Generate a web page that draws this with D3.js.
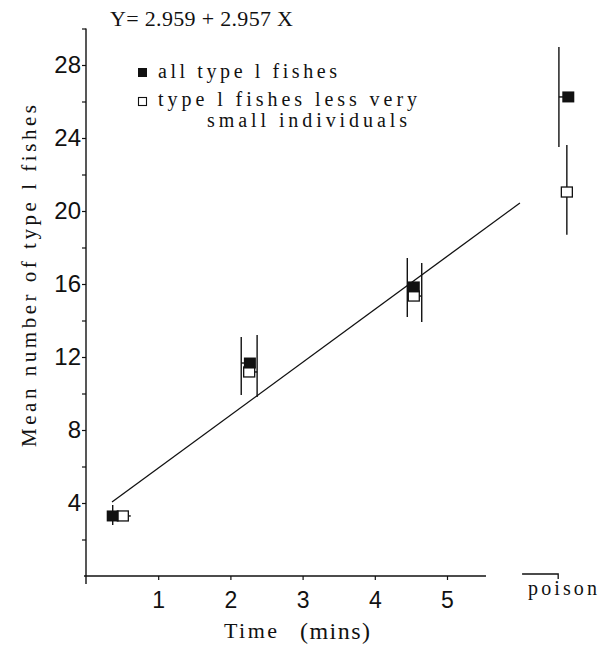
<!DOCTYPE html>
<html>
<head>
<meta charset="utf-8">
<script src="https://cdn.jsdelivr.net/npm/d3@7"></script>
<style>
  body { margin: 0; background: #fff; }
  svg { display: block; }
</style>
</head>
<body>
<svg id="chart" width="610" height="645"></svg>
<script>
// values (time in mins, mean count)
const allTime = [0.37, 2.27, 4.54, 6.68];
const allMean = [3.29, 11.67, 15.84, 26.25];
const allBarTime = [0.37, 2.15, 4.45, 6.55];
const allLow = [2.79, 9.92, 14.19, 23.51];
const allHigh = [3.89, 13.10, 17.42, 28.99];

const lessTime = [0.51, 2.26, 4.54, 6.66];
const lessMean = [3.29, 11.18, 15.34, 21.04];
const lessBarTime = [0.62, 2.37, 4.65, 6.66];
const lessLow = [3.29, 9.81, 13.92, 18.7];
const lessHigh = [3.29, 13.21, 17.15, 23.62];

// fitted line as drawn
const fitTime = [0.36, 6.01];
const fitValue = [4.05, 20.44];

const xTicks = [1, 2, 3, 4, 5];
const yTicks = [2, 4, 6, 8, 10, 12, 14, 16, 18, 20, 22, 24, 26, 28, 30];
const poisonSpan = [6.04, 6.54];

const svg = d3.select("#chart");
const serif = "Liberation Serif";
const sans = "Liberation Sans";

const x = d3.scaleLinear().domain([0, 5]).range([86, 447]);
const y = d3.scaleLinear().domain([0, 28]).range([576, 65]);

// serif labels are stretched by letter spacing only, like the typewritten original
function label(sel, px, len) {
  return sel.attr("textLength", len).attr("lengthAdjust", "spacing")
    .style("font-family", serif).style("font-size", px + "px").attr("fill", "#111");
}

// y axis
const yAxis = svg.append("g")
  .attr("transform", `translate(${x(0)},0)`)
  .call(d3.axisLeft(y).tickValues(yTicks).tickSize(4).tickPadding(1)
    .tickFormat(d => d % 4 === 0 && d < 30 ? d : ""));
yAxis.select(".domain").remove();
yAxis.selectAll("line").attr("stroke", "#111").attr("stroke-width", 1.2);
yAxis.selectAll("text").style("font-family", sans).style("font-size", "24px").attr("fill", "#111");
svg.append("line")
  .attr("x1", x(0)).attr("x2", x(0))
  .attr("y1", y(0) + 8).attr("y2", y(30))
  .attr("stroke", "#111").attr("stroke-width", 1.4);

// x axis
const xAxis = svg.append("g")
  .attr("transform", `translate(0,${y(0)})`)
  .call(d3.axisBottom(x).tickValues(xTicks).tickSize(4).tickPadding(12).tickFormat(d3.format("d")));
xAxis.select(".domain").remove();
xAxis.selectAll("line").attr("stroke", "#111").attr("stroke-width", 1.2);
xAxis.selectAll("text").style("font-family", sans).style("font-size", "23px").attr("fill", "#111");
svg.append("line")
  .attr("x1", x(0) - 2).attr("x2", x(5.54))
  .attr("y1", y(0)).attr("y2", y(0))
  .attr("stroke", "#111").attr("stroke-width", 1.4);

// separate "poison" stub
svg.append("path")
  .attr("d", `M${x(poisonSpan[0])},${y(0) - 2}H${x(poisonSpan[1])}v5`)
  .attr("fill", "none").attr("stroke", "#111").attr("stroke-width", 1.3);
label(svg.append("text").attr("x", 528).attr("y", 595), 20, 69).text("poison");

// axis titles
label(svg.append("text").attr("x", 224).attr("y", 638), 22, 53).text("Time");
label(svg.append("text").attr("x", 300).attr("y", 639), 24, 70).text("(mins)");

label(svg.append("text")
  .attr("transform", "translate(36,276) rotate(-90)")
  .attr("text-anchor", "middle"), 21, 342)
  .text("Mean  number of type l fishes");

// equation
label(svg.append("text").attr("x", 110).attr("y", 26), 22, 183).text("Y= 2.959 + 2.957 X");

// legend
const legend = svg.append("g");
legend.append("rect").attr("x", 138).attr("y", 68).attr("width", 9).attr("height", 9).attr("fill", "#111");
label(legend.append("text").attr("x", 158).attr("y", 78), 20, 179).text("all type l fishes");
legend.append("rect").attr("x", 138.5).attr("y", 97.5).attr("width", 8).attr("height", 8)
  .attr("fill", "#fff").attr("stroke", "#111").attr("stroke-width", 1.1);
label(legend.append("text").attr("x", 158).attr("y", 106), 20, 259).text("type l fishes less very");
label(legend.append("text").attr("x", 207).attr("y", 127), 20, 200).text("small individuals");

// regression line
const line = d3.line().x(d => x(d[0])).y(d => y(d[1]));
svg.append("path")
  .attr("d", line(d3.zip(fitTime, fitValue)))
  .attr("fill", "none").attr("stroke", "#111").attr("stroke-width", 1.3);

// error bars and connectors
function bars(times, barTimes, means, lows, highs) {
  const g = svg.append("g").attr("stroke", "#111").attr("stroke-width", 1.4);
  times.forEach((t, i) => {
    g.append("line")
      .attr("x1", x(barTimes[i])).attr("x2", x(barTimes[i]))
      .attr("y1", y(lows[i])).attr("y2", y(highs[i]));
    g.append("line")
      .attr("x1", x(t)).attr("x2", x(barTimes[i]))
      .attr("y1", y(means[i])).attr("y2", y(means[i]));
  });
}
bars(allTime, allBarTime, allMean, allLow, allHigh);
bars(lessTime, lessBarTime, lessMean, lessLow, lessHigh);

// squares: open ones first, filled drawn over them
svg.append("g").selectAll("rect")
  .data(d3.zip(lessTime, lessMean))
  .join("rect")
  .attr("x", d => x(d[0]) - 5.5).attr("y", d => y(d[1]) - 5)
  .attr("width", 11).attr("height", 10)
  .attr("fill", "#fff").attr("stroke", "#111").attr("stroke-width", 1.3);

svg.append("g").selectAll("rect")
  .data(d3.zip(allTime, allMean))
  .join("rect")
  .attr("x", d => x(d[0]) - 6).attr("y", d => y(d[1]) - 5.5)
  .attr("width", 12).attr("height", 11)
  .attr("fill", "#111");
</script>
</body>
</html>
